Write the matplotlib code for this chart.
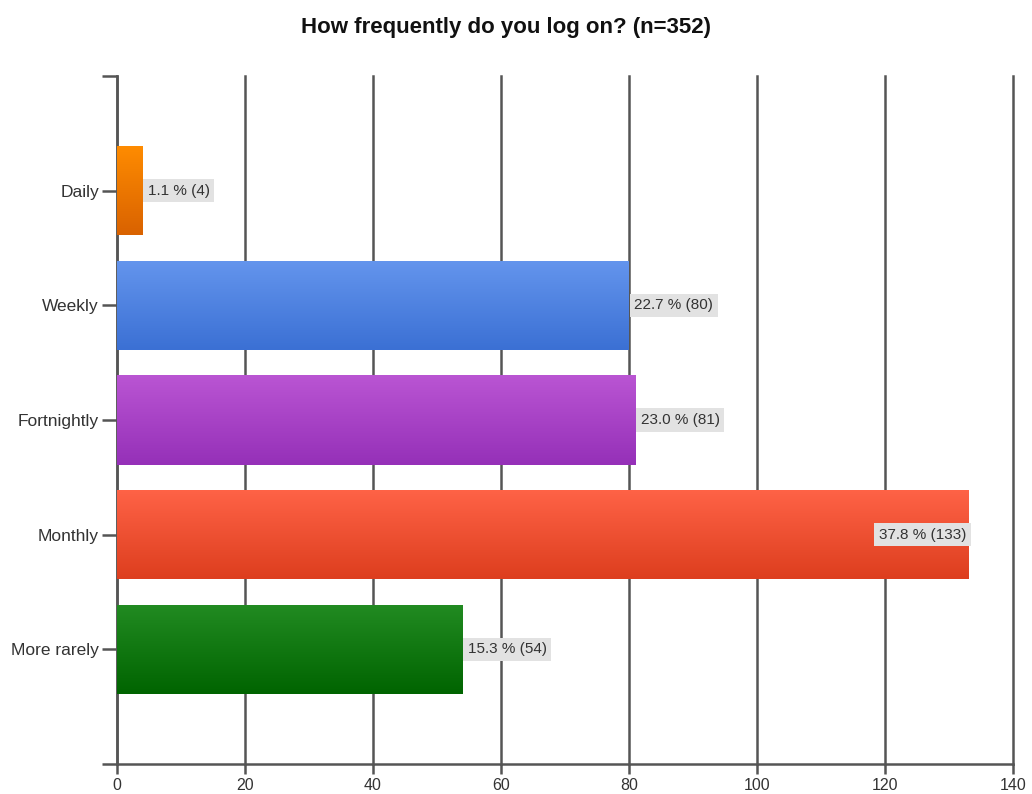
import numpy as np
import matplotlib
matplotlib.use('Agg')
import matplotlib.pyplot as plt
from matplotlib.colors import LinearSegmentedColormap

plt.rcParams['font.family'] = ['Liberation Sans', 'DejaVu Sans']

categories = ['Daily', 'Weekly', 'Fortnightly', 'Monthly', 'More rarely']
counts = [4, 80, 81, 133, 54]
percents = [1.1, 22.7, 23.0, 37.8, 15.3]
# top / bottom colour of each bar's gradient
top_colors = ['#ff8c00', '#6495ed', '#ba55d3', '#ff6347', '#228b22']
bottom_colors = ['#d96200', '#3b70d4', '#9530b8', '#dd3e1e', '#006400']
x_ticks = [0, 20, 40, 60, 80, 100, 120, 140]

fig = plt.figure(figsize=(10.32, 7.94), dpi=100)
ax = fig.add_axes([0.1134, 0.0378, 0.8682, 0.8665])

ypos = np.arange(1, len(categories) + 1)
bar_h = 0.78
grad = np.linspace(0, 1, 256).reshape(-1, 1)

for y, v, c1, c2 in zip(ypos, counts, top_colors, bottom_colors):
    bar = ax.barh(y, v, height=bar_h, color=c1, edgecolor='none', zorder=2)[0]
    cmap = LinearSegmentedColormap.from_list('g', [c1, c2])
    im = ax.imshow(grad, extent=[0, v, y + bar_h / 2, y - bar_h / 2],
                   aspect='auto', cmap=cmap, zorder=3, interpolation='bilinear')
    im.set_clip_path(bar)

# value labels, placed inside the bar when it would run off the plot
box = dict(boxstyle='square,pad=0.3', fc='#e2e2e2', ec='none')
for y, v, p in zip(ypos, counts, percents):
    txt = f'{p:.1f} % ({v})'
    if v > 120:
        ax.text(v - 0.3, y, txt, ha='right', va='center', fontsize=11,
                color='#333333', zorder=5, bbox=box)
    else:
        ax.text(v + 0.8, y, txt, ha='left', va='center', fontsize=11,
                color='#333333', zorder=5, bbox=box)

ax.set_xlim(0, 140)
ax.set_ylim(6, 0)
ax.set_xticks(x_ticks)
ax.set_yticks(ypos)
ax.set_yticklabels(categories)
ax.set_yticks([0, 6], minor=True)

ax.grid(axis='x', color='#555555', linewidth=1.8, zorder=1)
ax.set_axisbelow(True)
for gl in ax.get_xgridlines():
    gl.set_clip_on(False)
for s in ['top', 'right']:
    ax.spines[s].set_visible(False)
for s in ['left', 'bottom']:
    ax.spines[s].set_color('#555555')
    ax.spines[s].set_linewidth(1.8)

ax.tick_params(axis='y', which='both', length=11, width=1.8, color='#555555',
               labelsize=12.5, labelcolor='#333333', pad=2)
ax.tick_params(axis='x', length=7, width=1.8, color='#555555',
               labelsize=11.5, labelcolor='#333333', pad=3)

fig.suptitle('How frequently do you log on? (n=352)', x=0.49, y=0.978,
             fontsize=16, fontweight='bold', color='#111111')

fig.savefig('out.png', dpi=100)
